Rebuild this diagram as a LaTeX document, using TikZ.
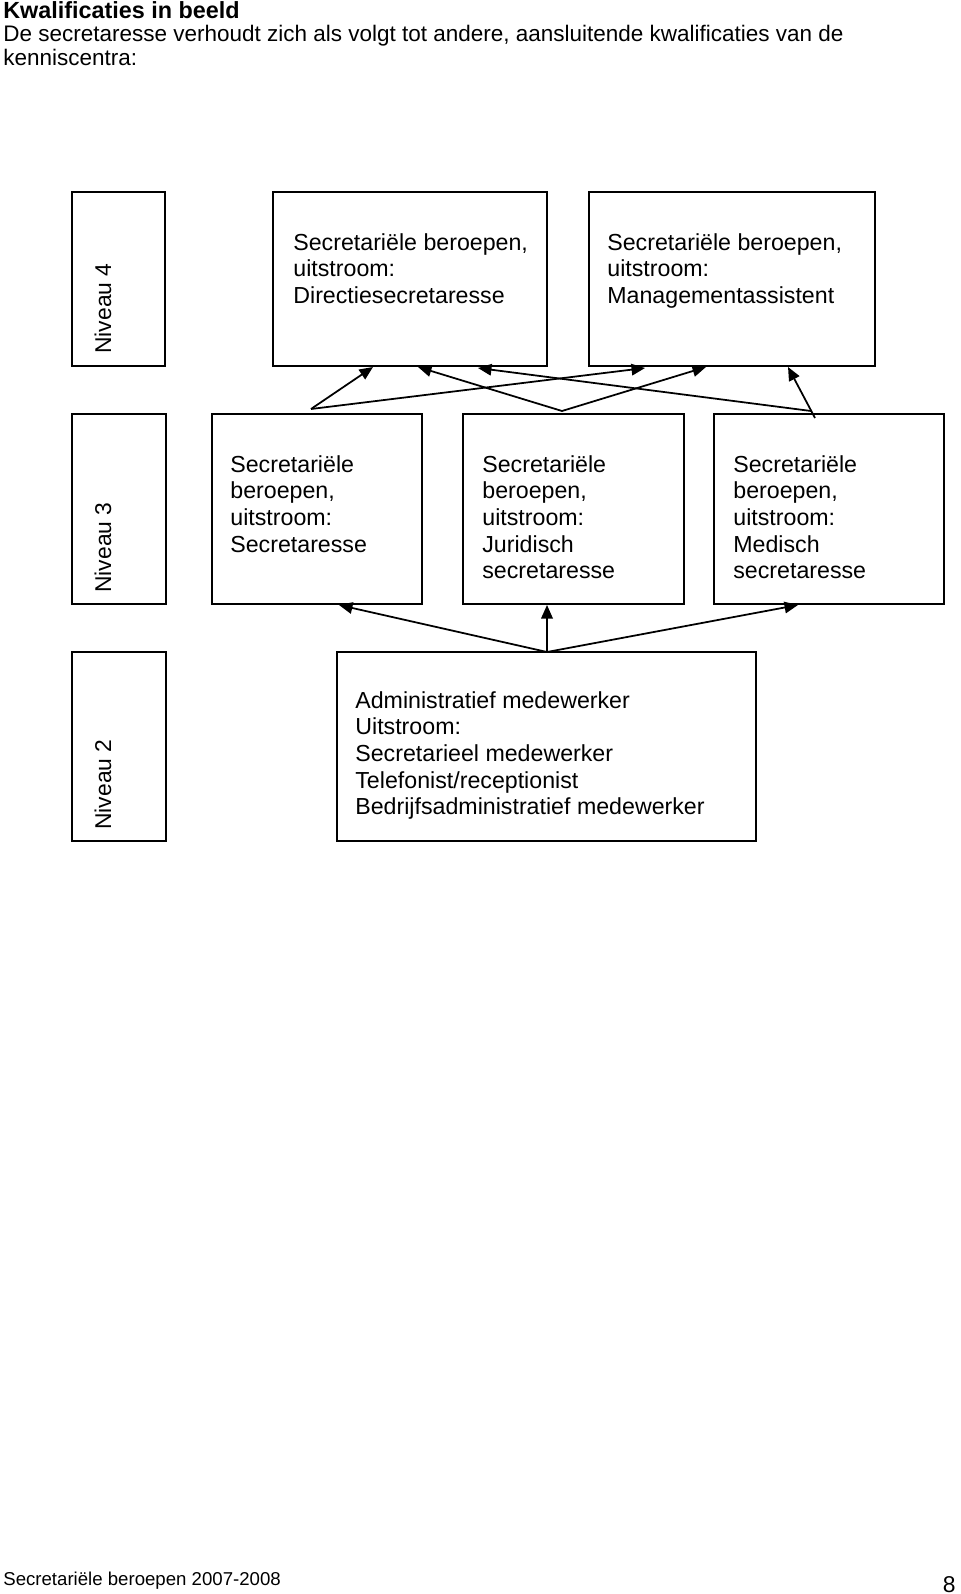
\documentclass[tikz,border=0pt]{standalone}
\usepackage{fontspec}
\setmainfont{Liberation Sans}
\usetikzlibrary{arrows.meta}

\begin{document}
\begin{tikzpicture}[
    x=0.02cm, y=-0.02cm,
    box/.style={rectangle, draw=black, line width=1.1pt, inner sep=0pt, outer sep=0pt, anchor=north west},
    boxtext/.style={anchor=north west, inner sep=0pt, align=left, font=\fontsize{13.2}{15.2}\selectfont},
    level/.style={rotate=90, anchor=west, inner sep=0pt, font=\fontsize{13}{15}\selectfont},
    arrow/.style={-{Triangle[length=0.27cm, width=0.23cm]}, line width=1pt}
]
\useasboundingbox (0,0) rectangle (960,1594);

% Heading
\node[anchor=base west, inner sep=0pt, font=\fontsize{13.3}{15}\selectfont\bfseries] (title) at (3,19) {Kwalificaties in beeld};
\node[anchor=base west, inner sep=0pt, align=left, font=\fontsize{12.8}{13.9}\selectfont] (intro) at (3,66) {De secretaresse verhoudt zich als volgt tot andere, aansluitende kwalificaties van de\\kenniscentra:};

% Niveau 4
\node[box, minimum width=1.86cm, minimum height=3.48cm] (niv4) at (72,192) {};
\node[level] (niv4txt) at (103,354) {Niveau 4};
\node[box, minimum width=5.48cm, minimum height=3.48cm] (dir) at (273,192) {};
\node[boxtext] (dirtxt) at (293,233) {Secretariële beroepen,\\uitstroom:\\Directiesecretaresse};
\node[box, minimum width=5.72cm, minimum height=3.48cm] (man) at (589,192) {};
\node[boxtext] (mantxt) at (607,233) {Secretariële beroepen,\\uitstroom:\\Managementassistent};

% Niveau 3
\node[box, minimum width=1.88cm, minimum height=3.80cm] (niv3) at (72,414) {};
\node[level] (niv3txt) at (103,593) {Niveau 3};
\node[box, minimum width=4.20cm, minimum height=3.80cm] (sec) at (212,414) {};
\node[boxtext] (sectxt) at (230,455) {Secretariële\\beroepen,\\uitstroom:\\Secretaresse};
\node[box, minimum width=4.42cm, minimum height=3.80cm] (jur) at (463,414) {};
\node[boxtext] (jurtxt) at (482,455) {Secretariële\\beroepen,\\uitstroom:\\Juridisch\\secretaresse};
\node[box, minimum width=4.60cm, minimum height=3.80cm] (med) at (714,414) {};
\node[boxtext] (medtxt) at (733,455) {Secretariële\\beroepen,\\uitstroom:\\Medisch\\secretaresse};

% Niveau 2
\node[box, minimum width=1.88cm, minimum height=3.78cm] (niv2) at (72,652) {};
\node[level] (niv2txt) at (103,830) {Niveau 2};
\node[box, minimum width=8.38cm, minimum height=3.78cm] (adm) at (337,652) {};
\node[boxtext] (admtxt) at (355,691) {Administratief medewerker\\Uitstroom:\\Secretarieel medewerker\\Telefonist/receptionist\\Bedrijfsadministratief medewerker};

% Footer
\node[anchor=base west, inner sep=0pt, font=\fontsize{10.6}{12}\selectfont] (foot) at (3,1585) {Secretariële beroepen 2007-2008};
\node[anchor=base east, inner sep=0pt, font=\fontsize{13}{15}\selectfont] (page) at (956,1592) {8};

% Arrow ends
\coordinate (secA) at (311,409);
\coordinate (jurA) at (562,411);
\coordinate (medA) at (811,411);
\coordinate (medB) at (815,418);
\coordinate (dirA) at (373,367);
\coordinate (dirB) at (418,367);
\coordinate (dirC) at (478,368);
\coordinate (manA) at (645,368);
\coordinate (manB) at (706,367);
\coordinate (manC) at (788,367);
\coordinate (admA) at (547,652);
\coordinate (secB) at (339,605);
\coordinate (jurB) at (547,605);
\coordinate (medC) at (798,605);

% Niveau 3 to niveau 4
\draw[arrow] (secA) -- (dirA);
\draw[arrow] (secA) -- (manA);
\draw[arrow] (jurA) -- (dirB);
\draw[arrow] (jurA) -- (manB);
\draw[arrow] (medA) -- (dirC);
\draw[arrow] (medB) -- (manC);

% Niveau 2 to niveau 3
\draw[arrow] (admA) -- (secB);
\draw[arrow] (admA) -- (jurB);
\draw[arrow] (admA) -- (medC);

\end{tikzpicture}
\end{document}
